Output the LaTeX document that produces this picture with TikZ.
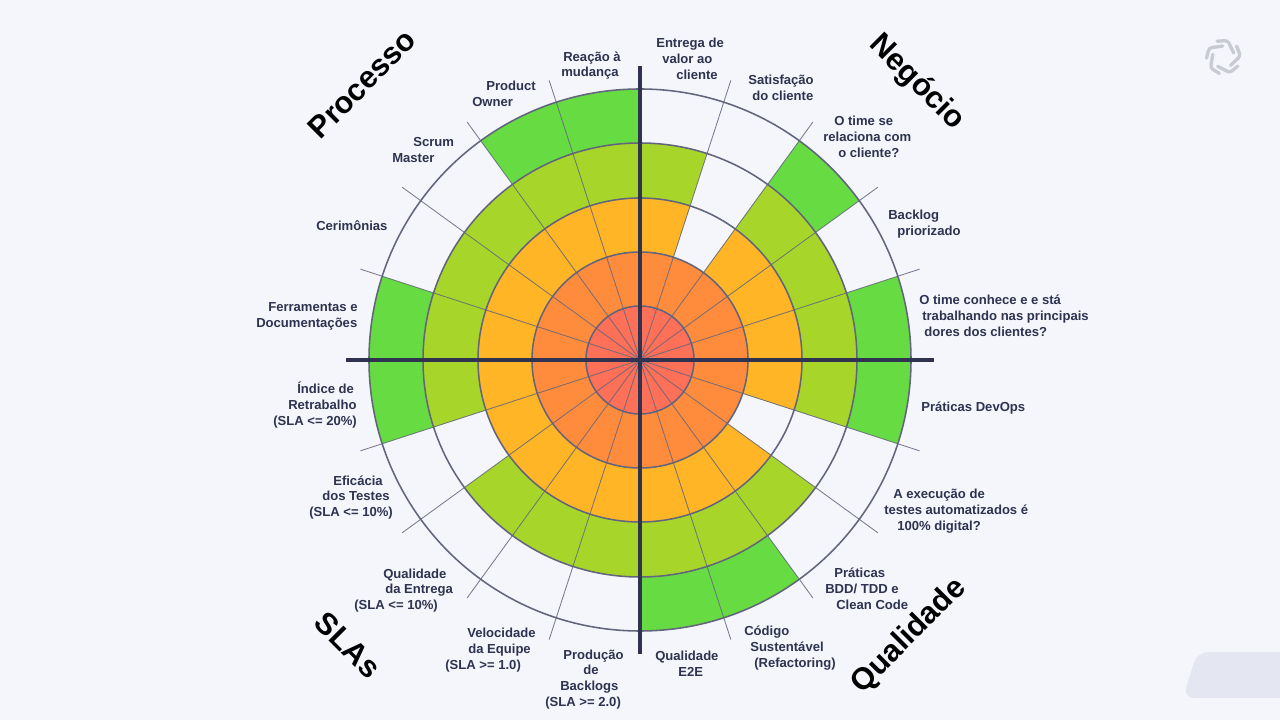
\documentclass[tikz,border=0pt]{standalone}
\usepackage{fontspec}
\setmainfont{Liberation Sans}
\usetikzlibrary{positioning}
\definecolor{pagebg}{HTML}{F4F6FB}
\definecolor{tabbg}{HTML}{E4E7F1}
\definecolor{logogray}{HTML}{C9CBD4}
\definecolor{ringA}{HTML}{FF7058}
\definecolor{ringB}{HTML}{FF8C3D}
\definecolor{ringC}{HTML}{FFB526}
\definecolor{ringD}{HTML}{A8D52A}
\definecolor{ringE}{HTML}{66DB42}
\definecolor{ringline}{HTML}{62657C}
\definecolor{axisline}{HTML}{2F3350}
\definecolor{labeltext}{HTML}{2E3350}
\newlength{\pxu}
\setlength{\pxu}{0.025cm}
\newcommand{\ind}[1]{\hspace*{#1\pxu}}

\begin{document}
\begin{tikzpicture}[
	x=0.025cm,y=0.025cm,
	lbl/.style={anchor=west,inner sep=0,align=left,text=labeltext,yshift=-0.75pt,font=\fontsize{9.3}{11.3}\selectfont\bfseries},
	ttl/.style={inner sep=0,text=black,font=\fontsize{21.8}{24}\selectfont\bfseries},
	ringcircle/.style={draw=ringline,line width=1.1pt},
	spoke/.style={draw=ringline,line width=0.6pt,draw opacity=0.85},
	axis/.style={draw=axisline,line width=2.2pt},
]
\fill[pagebg] (-640,-360) rectangle (640,360);
\fill[tabbg,rounded corners=8] (640,-292) -- (557,-292) -- (543,-338) -- (640,-338);
\coordinate (hub) at (0,0);
\foreach \r/\col/\angs in {
	271/ringE/{54,18,0,-54,-72,-162,-180,126,108},
	217/ringD/{90,54,36,18,0,-36,-54,-72,-90,-108,-126,-162,-180,162,144,126,108},
	162/ringC/{90,54,36,18,0,-36,-54,-72,-90,-108,-126,-144,-162,-180,162,144,126,108},
	108/ringB/{90,72,54,36,18,0,-18,-36,-54,-72,-90,-108,-126,-144,-162,-180,162,144,126,108},
	54/ringA/{90,72,54,36,18,0,-18,-36,-54,-72,-90,-108,-126,-144,-162,-180,162,144,126,108}}
	\foreach \a in \angs
		\fill[\col] (hub) -- (\a:\r) arc (\a:\a-18:\r) -- cycle;
\foreach \r in {54,108,162,217,271}
	\draw[ringcircle] (hub) circle (\r);
\foreach \a in {18,36,54,72,108,126,144,162,198,216,234,252,288,306,324,342} {
	\coordinate (tip\a) at (\a:294);
	\draw[spoke] (hub) -- (tip\a);
}
\coordinate (axisN) at (90:294);
\coordinate (axisS) at (270:294);
\coordinate (axisW) at (180:294);
\coordinate (axisE) at (0:294);
\draw[axis] (axisN) -- (axisS);
\draw[axis] (axisW) -- (axisE);

\node[lbl] (entrega) at (16,302) {Entrega de\\\ind{6}valor ao\\\ind{20}cliente};
\node[lbl] (satisfacao) at (108,273.5) {Satisfação\\\ind{4}do cliente};
\node[lbl] (relaciona) at (183,224.5) {\ind{11}O time se\\relaciona com\\\ind{15}o cliente?};
\node[lbl] (backlog) at (248,136.5) {Backlog\\\ind{9}priorizado};
\node[lbl] (dores) at (279,45) {O time conhece e e stá\\\ind{3}trabalhando nas principais\\\ind{5}dores dos clientes?};
\node[lbl] (devops) at (281,-47) {Práticas DevOps};
\node[lbl] (execucao) at (244,-150) {\ind{9}A execução de\\testes automatizados é\\\ind{13}100\% digital?};
\node[lbl] (bdd) at (185,-227.5) {\ind{9}Práticas\\BDD/ TDD e\\\ind{11}Clean Code};
\node[lbl] (codigo) at (104,-287) {Código\\\ind{6}Sustentável\\\ind{10}(Refactoring)};
\node[lbl] (qualidade) at (15,-302.5) {Qualidade\\\ind{23}E2E};
\node[lbl] (producao) at (-95,-318.5) {\ind{18}Produção\\\ind{38}de\\\ind{15}Backlogs\\(SLA >= 2.0)};
\node[lbl] (velocidade) at (-195,-289) {\ind{22}Velocidade\\\ind{23}da Equipe\\(SLA >= 1.0)};
\node[lbl] (entregaq) at (-286,-229.5) {\ind{29}Qualidade\\\ind{31}da Entrega\\(SLA <= 10\%)};
\node[lbl] (eficacia) at (-331,-136.5) {\ind{24}Eficácia\\\ind{13}dos Testes\\(SLA <= 10\%)};
\node[lbl] (indice) at (-367,-44) {\ind{24}Índice de\\\ind{15}Retrabalho\\(SLA <= 20\%)};
\node[lbl] (ferramentas) at (-384,45) {\ind{12}Ferramentas e\\Documentações};
\node[lbl] (cerimonias) at (-324,135) {Cerimônias};
\node[lbl] (scrum) at (-248,211) {\ind{21}Scrum\\Master};
\node[lbl] (product) at (-168,267) {\ind{14}Product\\Owner};
\node[lbl] (reacao) at (-79,295.5) {\ind{2}Reação à\\mudança};

\node[ttl,rotate=45] (processo) at (-278,276) {Processo};
\node[ttl,rotate=-45] (negocio) at (276.5,277.5) {Negócio};
\node[ttl,rotate=-45] (slas) at (-292,-285) {SLAs};
\node[ttl,rotate=45] (qualid) at (269,-276) {Qualidade};

\coordinate (logo) at (583.5,303);
\foreach \a in {0,72,144,216,288}
	\draw[logogray,line width=2.35pt,line cap=round,rounded corners=2,shift={(logo)}] (112+\a:17) -- (76+\a:17) -- (22+\a:11);
\end{tikzpicture}
\end{document}
